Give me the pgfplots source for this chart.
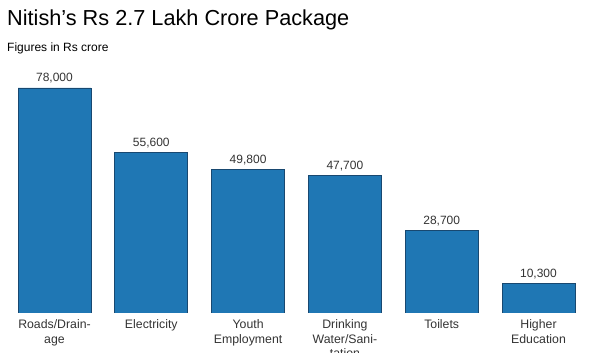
\documentclass[border=0pt]{standalone}
\usepackage{pgfplots}
\pgfplotsset{compat=1.18}
\usepackage{fontspec}
\setmainfont{Liberation Sans}
\definecolor{barfill}{RGB}{31,119,180}
\definecolor{barline}{RGB}{24,72,112}
\definecolor{txtgray}{RGB}{51,51,51}
\begin{document}
\begin{tikzpicture}
\clip (0,0) rectangle (603pt,353pt);
\useasboundingbox (0,0) rectangle (603pt,353pt);
\node[anchor=base west, inner sep=0pt, font=\fontsize{21.7}{26}\selectfont] at (7pt,327pt) {Nitish’s Rs 2.7 Lakh Crore Package};
\node[anchor=base west, inner sep=0pt, font=\fontsize{12}{14}\selectfont] at (7pt,301pt) {Figures in Rs crore};
\begin{axis}[
  at={(6.1pt,40pt)}, anchor=south west,
  scale only axis, width=580.8pt, height=230.8pt,
  xmin=-0.5, xmax=5.5, ymin=0, ymax=80000,
  enlargelimits=false,
  axis line style={draw=none},
  ytick=\empty,
  xtick=data,
  major tick length=0pt,
  xticklabels={Roads/Drain-\\age, Electricity, Youth\\Employment, Drinking\\Water/Sani-\\tation, Toilets, Higher\\Education},
  xticklabel style={align=center, font=\fontsize{12.3}{14.5}\selectfont, text=txtgray, anchor=north, inner sep=0pt, yshift=-6.5pt},
  ybar, bar width=0.754,
  nodes near coords={\pgfmathprintnumber[assume math mode=true,1000 sep={,}]{\pgfplotspointmeta}},
  every node near coord/.append style={font=\fontsize{12}{14}\selectfont, text=txtgray, anchor=base, inner sep=0pt, yshift=6pt},
]
\addplot[fill=barfill, draw=barline, line width=0.8pt] coordinates {(0,78000) (1,55600) (2,49800) (3,47700) (4,28700) (5,10300)};
\end{axis}
\end{tikzpicture}
\end{document}
